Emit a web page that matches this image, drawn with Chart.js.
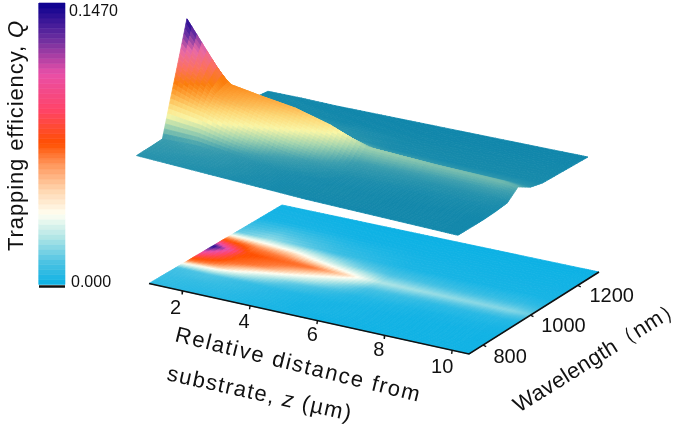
<!DOCTYPE html>
<html><head><meta charset="utf-8">
<style>html,body{margin:0;padding:0;background:#fff}canvas{display:block}</style>
<script src="https://cdn.jsdelivr.net/npm/chart.js@4"></script></head>
<body><canvas id="c" width="675" height="429"></canvas>
<script>
const zValues=[1,2,3,4,5,6,8,10,10.5];
const wavelengths=[740,800,850,900,950,1000,1050,1100,1200,1290];
const q740=[.006,.005,.004,.003,.002,.001,.001,.001,.001];
const q800=[.008,.007,.006,.004,.002,.002,.001,.001,.001];
const q850=[.010,.012,.008,.005,.003,.002,.001,.001,.001];
const q900=[.056,.046,.029,.016,.009,.004,.002,.002,.002];
const q950=[.101,.064,.052,.038,.024,.010,.006,.005,.004];
const q1000=[.147,.0705,.063,.0567,.044,.025,.021,.019,.016];
const q1050=[.062,.050,.044,.030,.018,.011,.008,.007,.006];
const q1100=[.015,.021,.015,.009,.006,.003,.002,.002,.002];
const q1200=[.002,.002,.002,.001,.001,.001,.001,.001,.001];
const q1290=[.001,.001,0,0,0,0,0,0,0];
const qRows=[q740,q800,q850,q900,q950,q1000,q1050,q1100,q1200,q1290];
const qMax=0.147;
const zTicks=[2,4,6,8,10];
const wlTicks=[800,1000,1200];
const barLabels=['0.1470','0.000'];
const yTitle='Trapping efficiency, ';
const xTitle1='Relative distance from';
const xTitle2='substrate, ';
const wlTitle='Wavelength（nm）';

const barStops=[[0,'#0cb1e4'],[.08,'#4cc3e3'],[.17,'#b2e6e6'],[.25,'#fffff2'],[.33,'#ffd9b4'],[.42,'#ff9c62'],[.5,'#ff5000'],[.62,'#ff4468'],[.75,'#e84fa8'],[.87,'#6f2fa0'],[1,'#0a0090']];
const floorStops=[[0,'#0cb1e4'],[.08,'#4cc3e3'],[.17,'#b2e6e6'],[.25,'#fffff2'],[.31,'#ffc9a0'],[.38,'#ff7a38'],[.46,'#ff5000'],[.62,'#ff4468'],[.75,'#e84fa8'],[.87,'#6f2fa0'],[1,'#0a0090']];
const topStops=[[0,'#0f86ab'],[.08,'#3e9fae'],[.17,'#a5d5ae'],[.25,'#f9f6a6'],[.33,'#fdd775'],[.42,'#fda53a'],[.5,'#fb7d0c'],[.62,'#fb7062'],[.75,'#e868a8'],[.87,'#6a30a2'],[1,'#120090']];
function hex(h){return [1,3,5].map(i=>parseInt(h.substr(i,2),16));}
function colour(stops,r){
  r=Math.max(0,Math.min(1,r));
  for(let i=1;i<stops.length;i++){
    if(r<=stops[i][0]){
      const t=(r-stops[i-1][0])/(stops[i][0]-stops[i-1][0]);
      const a=hex(stops[i-1][1]),b=hex(stops[i][1]);
      return 'rgb('+a.map((v,k)=>Math.round(v+(b[k]-v)*t)).join(',')+')';
    }
  }
  return stops[stops.length-1][1];
}
// oblique 3-D projection of (z, wavelength, Q) on the page plane
const floorC={fl:[149,283.5],fr:[469,354],bl:[282,205],br:[599,272]};
const topC={fl:[137,160],fr:[458,236],bl:[268,92],br:[588,157]};
const zR=[1,10.5],wR=[740,1290];
function project(c,z,w,q){
  const a=(z-zR[0])/(zR[1]-zR[0]),f=(w-wR[0])/(wR[1]-wR[0]);
  const bil=k=>(1-a)*(1-f)*c.fl[k]+a*(1-f)*c.fr[k]+(1-a)*f*c.bl[k]+a*f*c.br[k];
  const h=q/qMax*109;
  return {x:bil(0)-.11*h,y:bil(1)-h};
}
const SUB=8;
function surface(c,stops,lift){
  const out=[];
  for(let j=wavelengths.length-2;j>=0;j--){
    for(let i=0;i<zValues.length-1;i++){
      for(let sj=SUB-1;sj>=0;sj--){
        for(let si=0;si<SUB;si++){
          const pt=(u,v)=>{
            const z=zValues[i]+(zValues[i+1]-zValues[i])*u;
            const w=wavelengths[j]+(wavelengths[j+1]-wavelengths[j])*v;
            const q=(1-u)*(1-v)*qRows[j][i]+u*(1-v)*qRows[j][i+1]+(1-u)*v*qRows[j+1][i]+u*v*qRows[j+1][i+1];
            return {z,w,q};
          };
          const u0=si/SUB,u1=(si+1)/SUB,v0=sj/SUB,v1=(sj+1)/SUB;
          const cs=[pt(u0,v0),pt(u1,v0),pt(u1,v1),pt(u0,v1)];
          const mean=cs.reduce((s,p)=>s+p.q,0)/4;
          const col=colour(stops,mean/qMax);
          const data=cs.map(p=>project(c,p.z,p.w,lift?p.q:0));
          data.push(data[0]);
          out.push({data,showLine:true,fill:'shape',backgroundColor:col,borderColor:col,borderWidth:.8,pointRadius:0,tension:0});
        }
      }
    }
  }
  return out;
}
function bar(){
  const out=[],n=56,L=39,R=65,B=284.5,T=3;
  for(let i=0;i<n;i++){
    const r0=i/n,r1=(i+1)/n,col=colour(barStops,(i+.5)/n);
    const y0=B-(B-T)*r0,y1=B-(B-T)*r1;
    out.push({data:[{x:L,y:y0},{x:R,y:y0},{x:R,y:y1},{x:L,y:y1},{x:L,y:y0}],showLine:true,fill:'shape',backgroundColor:col,borderColor:col,borderWidth:.6,pointRadius:0});
  }
  out.push({data:[{x:L,y:286.5},{x:R,y:286.5}],showLine:true,borderColor:'#111',borderWidth:2.5,pointRadius:0});
  return out;
}
function axes(){
  const ln=(data,w)=>({data,showLine:true,borderColor:'#111',borderWidth:w,pointRadius:0});
  const out=[ln([project(floorC,zR[0],wR[0],0),project(floorC,zR[1],wR[0],0),project(floorC,zR[1],wR[1],0)],1.6)];
  zTicks.forEach(z=>{const p=project(floorC,z,wR[0],0);out.push(ln([p,{x:p.x-.5,y:p.y+3.5}],1.4));});
  wlTicks.forEach(w=>{const p=project(floorC,zR[1],w,0);out.push(ln([p,{x:p.x+3,y:p.y+1.5}],1.4));});
  return out;
}
const textPlugin={id:'text',afterDraw(ch){
  const X=v=>ch.scales.x.getPixelForValue(v),Y=v=>ch.scales.y.getPixelForValue(v),g=ch.ctx;
  g.save();g.fillStyle='#111';g.textBaseline='middle';g.textAlign='center';
  const F='"Liberation Sans", Arial, sans-serif';
  g.font='20px '+F;
  const zOff=[[-7,18],[-6,17],[-5,15],[-6,15],[-10,17]];
  zTicks.forEach((z,i)=>{const p=project(floorC,z,wR[0],0);g.fillText(String(z),X(p.x+zOff[i][0]),Y(p.y+zOff[i][1]));});
  const wOff=[[27,12],[33,11],[34,11]];
  wlTicks.forEach((w,i)=>{const p=project(floorC,zR[1],w,0);g.fillText(String(w),X(p.x+wOff[i][0]),Y(p.y+wOff[i][1]));});
  g.font='16px '+F;g.textAlign='left';
  g.fillText(barLabels[0],X(69),Y(12));g.fillText(barLabels[1],X(71),Y(283));
  // rotated titles
  g.textBaseline='alphabetic';
  const rot=(x,y,deg,parts,sp)=>{g.save();g.translate(X(x),Y(y));g.rotate(deg*Math.PI/180);g.letterSpacing=sp+'px';let cx=0;
    parts.forEach(([t,f])=>{g.font=f;g.fillText(t,cx,0);cx+=g.measureText(t).width;});g.restore();};
  const R='22px '+F,I='italic 22px '+F;
  rot(23,251,-90,[[yTitle,R],['Q',I]],.9);
  rot(174,341,14,[[xTitle1,R]],1.6);
  rot(166,380,12.5,[[xTitle2,R],['z',I],[' (µm)',R]],1.4);
  rot(519,413,-32,[[wlTitle,R]],.3);
  g.restore();
}};
const all=[...surface(floorC,floorStops,false),...axes(),...surface(topC,topStops,true),...bar()].reverse();
new Chart(document.getElementById('c'),{
  type:'scatter',
  data:{datasets:all},
  options:{responsive:false,animation:false,events:[],
    layout:{padding:0},
    plugins:{legend:{display:false},tooltip:{enabled:false},title:{display:false}},
    scales:{x:{type:'linear',min:0,max:675,display:false},y:{type:'linear',min:0,max:429,reverse:true,display:false}}},
  plugins:[textPlugin]
});
</script></body></html>
